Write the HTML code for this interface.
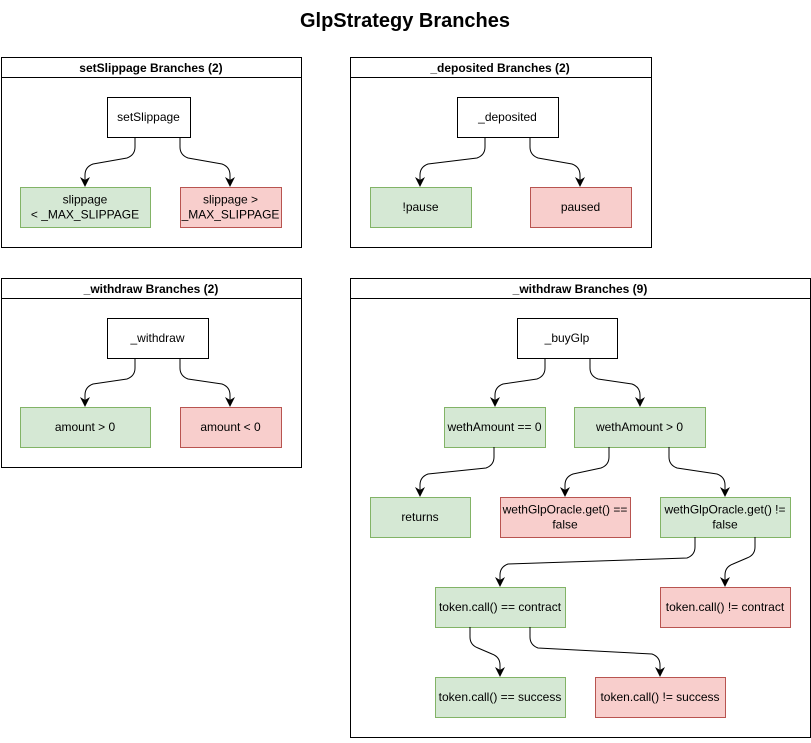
<!DOCTYPE html>
<html><head><meta charset="utf-8"><style>
body{margin:0;background:#fff;}
svg text{font-family:"Liberation Sans",Arial,sans-serif;}
</style></head><body>
<svg id="s" width="811" height="738" xmlns="http://www.w3.org/2000/svg">
<defs><marker id="a" markerWidth="10" markerHeight="10" refX="9" refY="5" orient="auto" markerUnits="userSpaceOnUse" viewBox="0 0 10 10"><path d="M0,0 L10,5 L0,10 L3,5 Z" fill="#000"/></marker></defs>
<text x="405" y="27" font-size="20" font-weight="bold" text-anchor="middle">GlpStrategy Branches</text>
<g fill="#fff" stroke="#000" stroke-width="1">
<rect x="1.5" y="57.5" width="300" height="190"/><line x1="1.5" y1="77.5" x2="301.5" y2="77.5"/>
<rect x="350.5" y="57.5" width="301" height="190"/><line x1="350.5" y1="77.5" x2="651.5" y2="77.5"/>
<rect x="1.5" y="278.5" width="300" height="189"/><line x1="1.5" y1="298.5" x2="301.5" y2="298.5"/>
<rect x="350.5" y="278.5" width="460" height="459"/><line x1="350.5" y1="298.5" x2="810.5" y2="298.5"/>
</g>
<g font-size="12" font-weight="bold" text-anchor="middle">
<text x="151" y="72">setSlippage Branches (2)</text>
<text x="500" y="72">_deposited Branches (2)</text>
<text x="151" y="293">_withdraw Branches (2)</text>
<text x="580" y="293">_withdraw Branches (9)</text>
</g>
<g id="n" stroke-width="1" font-size="12" text-anchor="middle"></g>
<g id="e" fill="none" stroke="#000" stroke-width="1"></g>
</svg>
<script>
var W="#fff",G="#d5e8d4",R="#f8cecc",WS="#000",GS="#82b366",RS="#b85450";
var nodes=[
[107,97,83,40,0,["setSlippage"]],
[20,187,130,40,1,["slippage","< _MAX_SLIPPAGE"]],
[180,187,101,40,2,["slippage >","_MAX_SLIPPAGE"]],
[457,97,101,40,0,["_deposited"]],
[370,187,101,40,1,["!pause"]],
[530,187,101,40,2,["paused"]],
[107,318,101,40,0,["_withdraw"]],
[20,407,130,40,1,["amount > 0"]],
[180,407,101,40,2,["amount < 0"]],
[517,318,100,40,0,["_buyGlp"]],
[444,407,101,40,1,["wethAmount == 0"]],
[574,407,131,40,1,["wethAmount > 0"]],
[370,497,100,40,1,["returns"]],
[500,497,130,40,2,["wethGlpOracle.get() ==","false"]],
[660,497,130,40,1,["wethGlpOracle.get() !=","false"]],
[435,587,130,40,1,["token.call() == contract"]],
[660,587,130,40,2,["token.call() != contract"]],
[435,677,130,40,1,["token.call() == success"]],
[595,677,130,40,2,["token.call() != success"]]
];
var fills=[W,G,R],strokes=[WS,GS,RS],ns="http://www.w3.org/2000/svg";
var gn=document.getElementById("n");
nodes.forEach(function(n){
 var r=document.createElementNS(ns,"rect");
 r.setAttribute("x",n[0]+.5);r.setAttribute("y",n[1]+.5);r.setAttribute("width",n[2]);r.setAttribute("height",n[3]);
 r.setAttribute("fill",fills[n[4]]);r.setAttribute("stroke",strokes[n[4]]);gn.appendChild(r);
 var cx=n[0]+n[2]/2,cy=n[1]+n[3]/2,L=n[5];
 L.forEach(function(t,i){var tx=document.createElementNS(ns,"text");tx.setAttribute("x",cx);
 tx.setAttribute("y",cy+4+(i-(L.length-1)/2)*15);tx.textContent=t;gn.appendChild(tx);});
});
var edges=[[135,137,85,187],[180,137,230,187],[485,137,420,187],[530,137,580,187],
[135,358,85,407],[180,358,230,407],[545,358,495,407],[590,358,640,407],
[494,447,420,497],[609,447,565,497],[669,447,725,497],
[695,537,500,587],[755,537,725,587],[470,627,500,677],[530,627,660,677]];
var ge=document.getElementById("e");
edges.forEach(function(e){
 var x1=e[0],y1=e[1],x2=e[2],y2=e[3],d=(x2>x1?1:-1);
 var p=document.createElementNS(ns,"path");
 var ya=y1+10,yb=y2-12;
 p.setAttribute("d","M"+x1+","+y1+" V"+ya+" Q"+x1+","+(ya+8)+" "+(x1+d*8)+","+(ya+11)+" L"+(x2-d*8)+","+(yb-11)+" Q"+x2+","+(yb-8)+" "+x2+","+yb+" V"+(y2-1));
 p.setAttribute("marker-end","url(#a)");ge.appendChild(p);
});
</script>
</body></html>
